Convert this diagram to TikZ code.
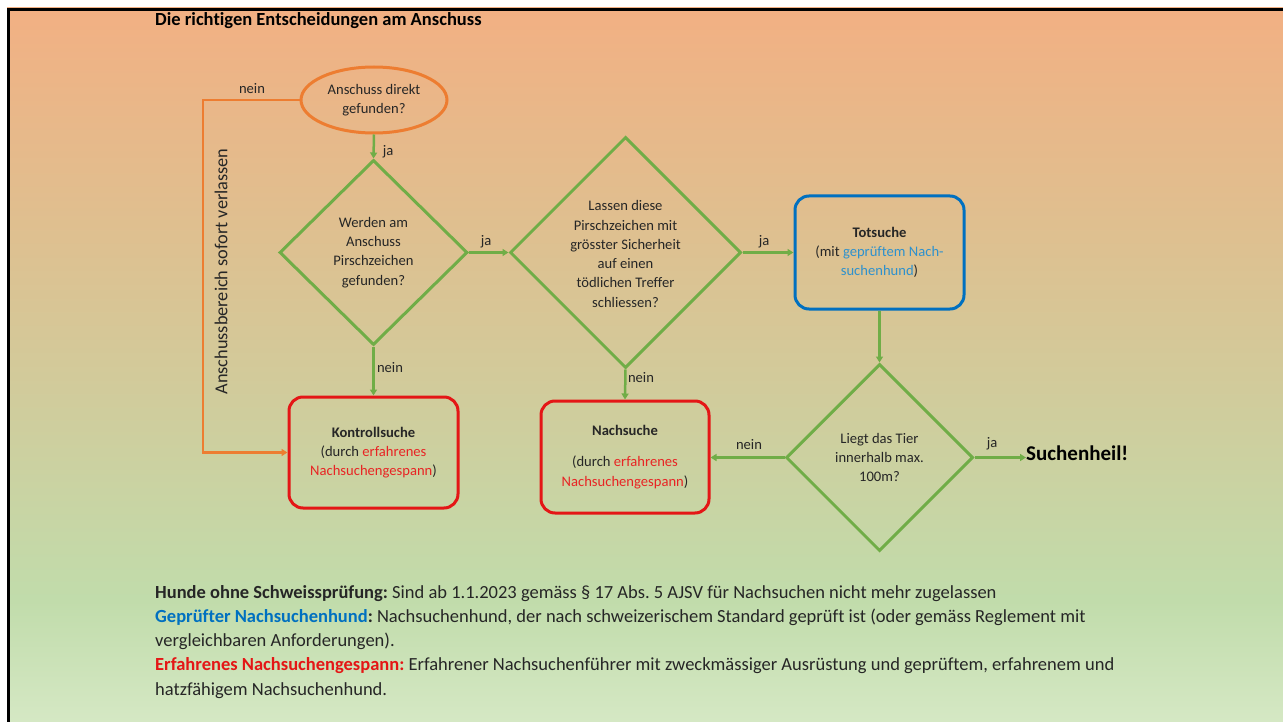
\documentclass[tikz,border=0pt]{standalone}
\usepackage{fontspec}
\setmainfont[Ligatures={NoCommon}]{Carlito}
\frenchspacing
\usetikzlibrary{shapes.geometric,arrows.meta}
\definecolor{bgA}{RGB}{213,232,196}
\definecolor{bgB}{RGB}{193,220,171}
\definecolor{bgC}{RGB}{208,204,156}
\definecolor{bgD}{RGB}{222,192,144}
\definecolor{bgE}{RGB}{242,176,131}
\definecolor{orangeC}{RGB}{237,125,49}
\definecolor{greenC}{RGB}{112,173,71}
\definecolor{redC}{RGB}{228,22,22}
\definecolor{blueC}{RGB}{0,112,192}
\definecolor{lblueC}{RGB}{46,145,205}
\definecolor{redT}{RGB}{232,36,36}
\definecolor{txtC}{RGB}{38,38,38}
\pgfdeclareverticalshading{bgshade}{100bp}{color(0bp)=(bgA); color(25bp)=(bgA); color(33.5bp)=(bgB); color(47.5bp)=(bgC); color(59bp)=(bgD); color(75bp)=(bgE); color(100bp)=(bgE)}
\newcommand\dfont{\fontsize{14.6}{19.3}\selectfont}
\newcommand\bfont{\fontsize{18.5}{24}\selectfont}
\tikzset{
  decision/.style={diamond, draw=greenC, line width=3pt, inner sep=0pt},
  outcome/.style={rectangle, rounded corners=14pt, line width=3pt, minimum width=169pt, minimum height=111pt, align=center, text=txtC, font=\dfont},
  garrow/.style={draw=greenC, line width=2.5pt, -{Triangle[length=6pt,width=7pt]}},
  oarrow/.style={draw=orangeC, line width=2.5pt, -{Triangle[length=6pt,width=7pt]}},
  lbl/.style={text=txtC, font=\dfont, inner sep=0pt},
  dtext/.style={text=txtC, font=\dfont, align=center, inner sep=0pt},
  foot/.style={anchor=base west, inner sep=0pt, text=txtC, font=\bfont}
}
\begin{document}
\begin{tikzpicture}[x=1pt,y=-1pt]
\useasboundingbox (0,0) rectangle (1283,722);
\shade[shading=bgshade] (7,8) rectangle (1283,722);
\draw[black, line width=3pt] (8.5,722) -- (8.5,9.5) -- (1283,9.5);

\node[anchor=base west, inner sep=0pt, font=\fontsize{18.5}{22}\selectfont\bfseries, text=black] (title) at (155,26) {Die richtigen Entscheidungen am Anschuss};

% shapes
\node[ellipse, draw=orangeC, line width=3pt, minimum width=146pt, minimum height=66pt, inner sep=0pt, align=center, text=txtC, font=\dfont] (e) at (374,100) {Anschuss direkt\\gefunden?};
\node[decision, minimum width=188pt, minimum height=185pt] (d1) at (373.5,252.5) {};
\node[dtext] (t1) at (d1.center) {Werden am\\Anschuss\\Pirschzeichen\\gefunden?};
\node[decision, minimum width=231pt, minimum height=231pt] (d2) at (625.5,252.5) {};
\node[dtext] (t2) at (625.5,254) {Lassen diese\\Pirschzeichen mit\\grösster Sicherheit\\auf einen\\tödlichen Treffer\\schliessen?};
\node[decision, minimum width=187pt, minimum height=187pt] (d3) at (879.5,457.5) {};
\node[dtext] (t3) at (d3.center) {Liegt das Tier\\innerhalb max.\\100m?};

\node[outcome, draw=redC] (k) at (373.5,452.5) {\textbf{Kontrollsuche}\\(durch \textcolor{redT}{erfahrenes}\\\textcolor{redT}{Nachsuchengespann})};
\node[outcome, draw=redC, minimum width=168pt, minimum height=112pt] (n) at (625,457) {\textbf{Nachsuche}\\[12pt](durch \textcolor{redT}{erfahrenes}\\\textcolor{redT}{Nachsuchengespann})};
\node[outcome, draw=blueC, minimum height=113pt] (t) at (879.5,252.5) {\textbf{Totsuche}\\(mit \textcolor{lblueC}{geprüftem Nach-}\\\textcolor{lblueC}{suchenhund})};

\node[anchor=base west, inner sep=0pt, font=\fontsize{21}{24}\selectfont\bfseries, text=black] (s) at (1026,460) {Suchenheil!};

\node[rotate=90, text=txtC, font=\fontsize{18.3}{20}\selectfont, inner sep=0pt] (v) at (221,271.5) {Anschussbereich sofort verlassen};

% connectors
\coordinate (lc) at (203,100);
\draw[oarrow] (e.west) -- (lc) |- (k.west);
\draw[garrow] (e.south) -- (d1.north);
\draw[garrow] (d1.south) -- (k.north);
\draw[garrow] (d1.east) -- (d2.west);
\draw[garrow] (d2.south) -- (n.north);
\draw[garrow] (d2.east) -- (t.west);
\draw[garrow] (t.south) -- (d3.north);
\draw[garrow] (d3.west) -- (n.east |- d3.west);
\draw[garrow] (d3.east) -- (d3.east -| s.west);

% labels
\node[lbl] (l1) at (252,89) {nein};
\node[lbl] (l2) at (388,152) {ja};
\node[lbl] (l3) at (390,368) {nein};
\node[lbl] (l4) at (486,242) {ja};
\node[lbl] (l5) at (764,242) {ja};
\node[lbl] (l6) at (641,378) {nein};
\node[lbl] (l7) at (749,445) {nein};
\node[lbl] (l8) at (992,444) {ja};

% footnotes
\node[foot] (f1) at (155,598) {\textbf{Hunde ohne Schweissprüfung:} Sind ab 1.1.2023 gemäss § 17 Abs. 5 AJSV für Nachsuchen nicht mehr zugelassen};
\node[foot] (f2) at (155,622.5) {\textbf{\textcolor{blueC}{Geprüfter Nachsuchenhund}:} Nachsuchenhund, der nach schweizerischem Standard geprüft ist (oder gemäss Reglement mit};
\node[foot] (f3) at (155,646.5) {vergleichbaren Anforderungen).};
\node[foot] (f4) at (155,670.5) {\textbf{\textcolor{redC}{Erfahrenes Nachsuchengespann:}} Erfahrener Nachsuchenführer mit zweckmässiger Ausrüstung und geprüftem, erfahrenem und};
\node[foot] (f5) at (155,695) {hatzfähigem Nachsuchenhund.};
\end{tikzpicture}
\end{document}
